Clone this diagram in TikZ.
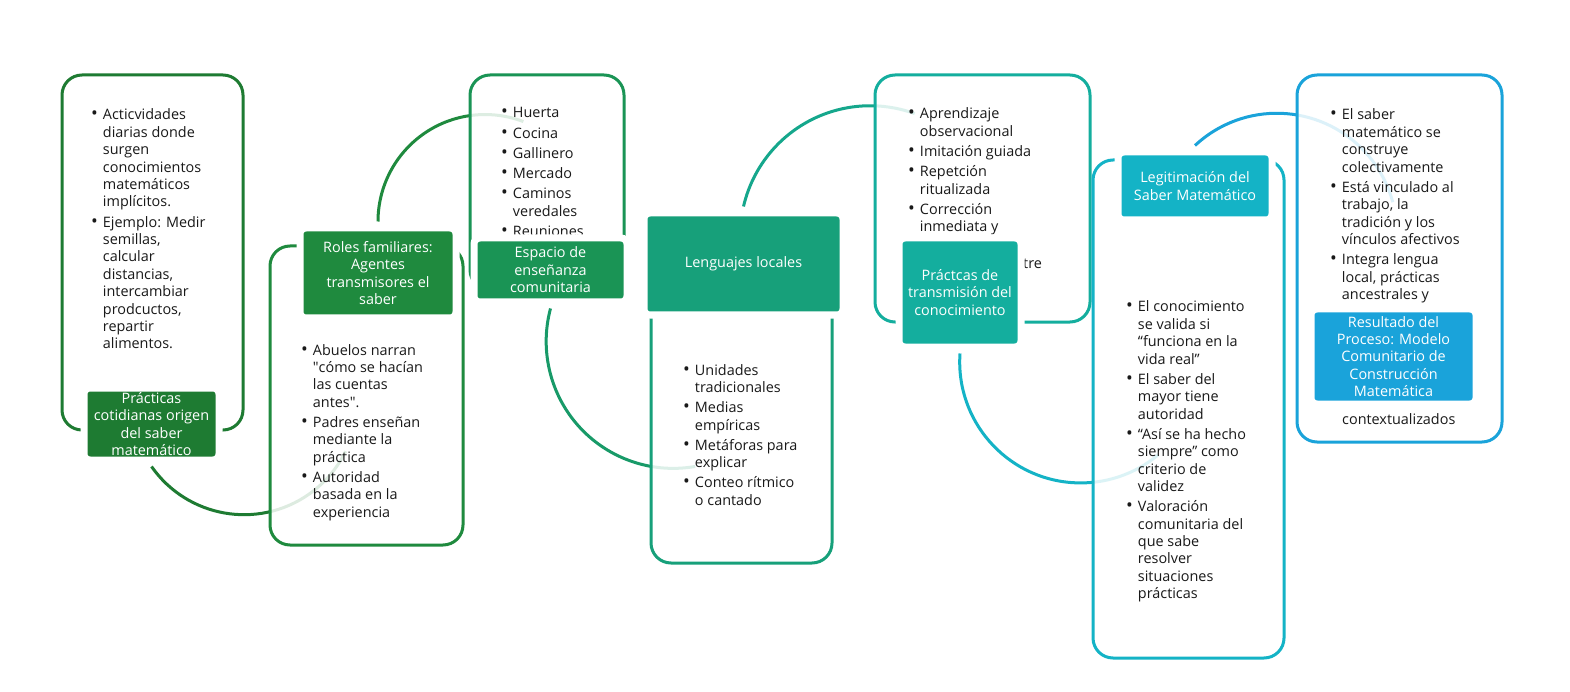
\documentclass[tikz,border=0pt]{standalone}
\usepackage{fontspec}
\setmainfont{Open Sans}
\usepackage{array}
\usetikzlibrary{backgrounds}
\definecolor{c1}{HTML}{1E7B32}
\definecolor{c2}{HTML}{1F8A3E}
\definecolor{c3}{HTML}{1A9455}
\definecolor{c4}{HTML}{17A07A}
\definecolor{c5}{HTML}{14AE9E}
\definecolor{c6}{HTML}{14B3C6}
\definecolor{c7}{HTML}{1AA3DA}
\colorlet{c34}{c3!50!c4}
\colorlet{c45}{c4!50!c5}
\newcommand\vin[1]{\begin{tabular}[t]{@{}l@{\hspace{5pt}}l@{}}#1\end{tabular}}
\newcommand\pto{{\fontsize{18}{17.4}\selectfont\textbullet}}
\begin{document}
\begin{tikzpicture}[x=1pt,y=-1pt,
 lista/.style={anchor=base west,inner sep=0,text=black!90,font=\fontsize{14.4}{17.4}\selectfont},
 etiqueta/.style={fill=#1,draw=white,line width=7pt,rounded corners=6pt,text=white,align=center,inner sep=0,font=\fontsize{14.4}{17.4}\selectfont},
 panel/.style={draw=#1,line width=3pt,fill=white,fill opacity=.85,rounded corners=20pt,inner sep=0},
 enlace/.style={line width=3pt}]
\node[lista] (t1) at (91,120) {\vin{\pto & Acticvidades\\ & diarias donde\\ & surgen\\ & conocimientos\\ & matemáticos\\ & implícitos.\\[2.8pt]
 \pto & Ejemplo: Medir\\ & semillas,\\ & calcular\\ & distancias,\\ & intercambiar\\ & prodcuctos,\\ & repartir\\ & alimentos.}};
\node[lista] (t2) at (301,355) {\vin{\pto & Abuelos narran\\ & \textquotedbl cómo se hacían\\ & las cuentas\\ & antes\textquotedbl.\\[2.8pt]
 \pto & Padres enseñan\\ & mediante la\\ & práctica\\[2.8pt]
 \pto & Autoridad\\ & basada en la\\ & experiencia}};
\node[lista] (t3) at (501,118) {\vin{\pto & Huerta\\[2.8pt] \pto & Cocina\\[2.8pt] \pto & Gallinero\\[2.8pt] \pto & Mercado\\[2.8pt]
 \pto & Caminos\\ & veredales\\[2.8pt] \pto & Reuniones}};
\node[lista] (t4) at (683,375) {\vin{\pto & Unidades\\ & tradicionales\\[2.8pt] \pto & Medias\\ & empíricas\\[2.8pt]
 \pto & Metáforas para\\ & explicar\\[2.8pt] \pto & Conteo rítmico\\ & o cantado}};
\node[lista] (t5) at (908,119) {\vin{\pto & Aprendizaje\\ & observacional\\[2.8pt] \pto & Imitación guiada\\[2.8pt]
 \pto & Repetción\\ & ritualizada\\[2.8pt] \pto & Corrección\\ & inmediata y}};
\node[lista] (t5b) at (1023,269) {tre};
\node[lista] (t6) at (1126,312) {\vin{\pto & El conocimiento\\ & se valida si\\ & “funciona en la\\ & vida real”\\[2.8pt]
 \pto & El saber del\\ & mayor tiene\\ & autoridad\\[2.8pt]
 \pto & “Así se ha hecho\\ & siempre” como\\ & criterio de\\ & validez\\[2.8pt]
 \pto & Valoración\\ & comunitaria del\\ & que sabe\\ & resolver\\ & situaciones\\ & prácticas}};
\node[lista] (t7) at (1330,120) {\vin{\pto & El saber\\ & matemático se\\ & construye\\ & colectivamente\\[2.8pt]
 \pto & Está vinculado al\\ & trabajo, la\\ & tradición y los\\ & vínculos afectivos\\[2.8pt]
 \pto & Integra lengua\\ & local, prácticas\\ & ancestrales y}};
\node[lista] (t7b) at (1342,424) {contextualizados};
\foreach \n/\col/\cx/\cy/\w/\h/\txt in {
 1/c1/151.5/424/135/72/{Prácticas\\cotidianas origen\\del saber\\matemático},
 2/c2/378/273/156/90/{Roles familiares:\\Agentes\\transmisores el\\saber},
 3/c3/550.5/270/153/64/{Espacio de\\enseñanza\\comunitaria},
 4/c4/743.5/264/199/102/{Lenguajes locales},
 5/c5/960/292.5/122/109/{Práctcas de\\transmisión del\\conocimiento},
 6/c6/1195/186/154/68/{Legitimación del\\Saber Matemático},
 7/c7/1393.5/356.5/165/95/{Resultado del\\Proceso: Modelo\\Comunitario de\\Construcción\\Matemática}}
 \node[etiqueta=\col,minimum width=\w,minimum height=\h] (l\n) at (\cx,\cy) {\txt};
\begin{pgfonlayer}{background}
\fill[white] (0,0) rectangle (1570,692);
\foreach \n/\anc/\dy/\col/\a/\b/\r in {1/south/-3/c1/145/26/113, 2/north/3/c2/180/291/107,
 3/south/-3/c34/195/80/127, 4/north/3/c45/193/290/130, 5/south/-3/c6/184/50/121, 6/north/3/c7/227/345/120}
 \draw[enlace,\col] ([yshift=\dy pt]l\n.\anc) arc[start angle=\a,end angle=\b,radius=\r];
\foreach \n/\col/\cx/\cy/\w/\h in {1/c1/152.5/252.5/181/355, 2/c2/366.5/395.5/193/299, 3/c3/547/182.5/154/215,
 4/c4/741.5/421.5/181/283, 5/c5/982.5/198.5/215/247, 6/c6/1188.5/409/191/498, 7/c7/1399.5/258.5/205/367}
 \node[panel=\col,minimum width=\w,minimum height=\h] (p\n) at (\cx,\cy) {};
\end{pgfonlayer}
\useasboundingbox (0,0) rectangle (1570,692);
\end{tikzpicture}
\end{document}
